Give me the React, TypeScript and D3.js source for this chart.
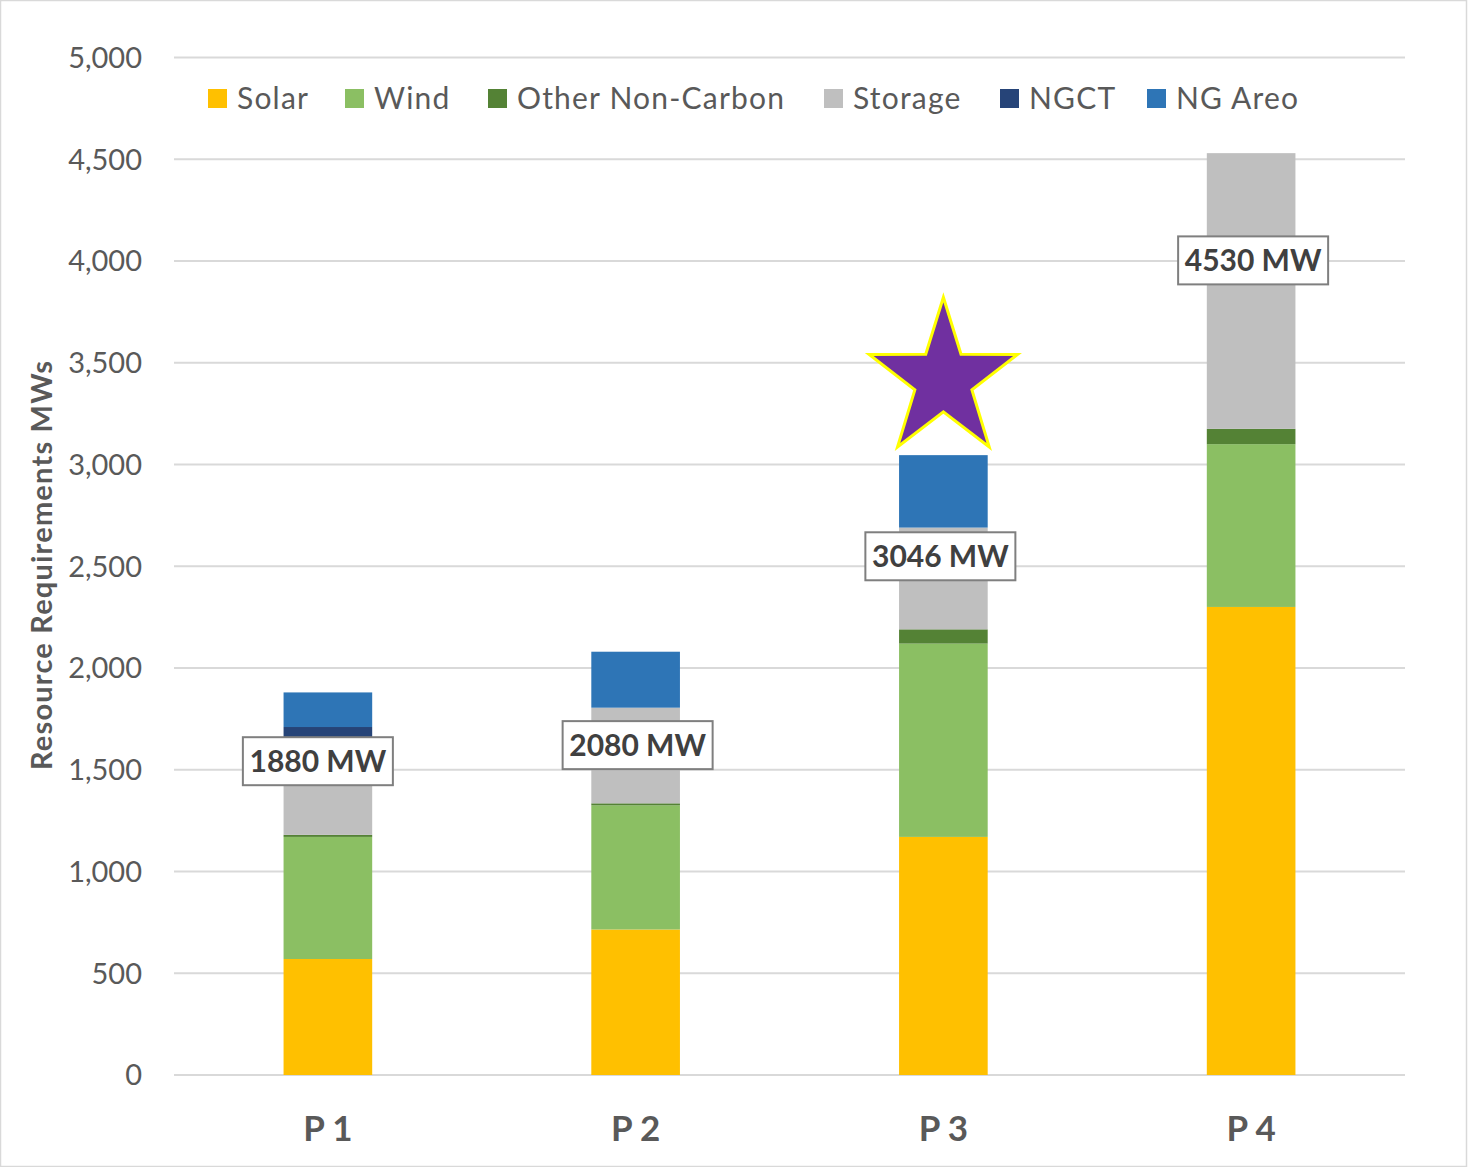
import React from "react";
import * as d3 from "d3";

// Resource build-out by plan (MW), stacked by resource type
const plans = ["P 1", "P 2", "P 3", "P 4"];
const seriesNames = ["Solar", "Wind", "Other Non-Carbon", "Storage", "NGCT", "NG Areo"];
const solar = [570, 715, 1170, 2300];
const wind = [600, 610, 950, 800];
const otherNonCarbon = [10, 10, 70, 75];
const storage = [480, 470, 500, 1355];
const ngct = [50, 0, 0, 0];
const ngAreo = [170, 275, 356, 0];
const yTicks = [0, 500, 1000, 1500, 2000, 2500, 3000, 3500, 4000, 4500, 5000];

// Where each total callout sits (in MW on the value axis) and its nudge from bar centre
const calloutLevel = [1542, 1621, 2549, 4003];
const calloutNudge = [-10, 2, -3, 2];
// Highlighted plan and the height of its marker
const highlightPlan = "P 3";
const highlightLevel = 3430;

const colors = ["#FFC000", "#8BBF63", "#548235", "#BFBFBF", "#264478", "#2E75B6"];

const W = 1468;
const H = 1167;
const FONT = "Lato, 'Open Sans', sans-serif";
const TEXT = "#595959";

const rows = plans.map((p, i) => ({
  plan: p,
  Solar: solar[i],
  Wind: wind[i],
  "Other Non-Carbon": otherNonCarbon[i],
  Storage: storage[i],
  NGCT: ngct[i],
  "NG Areo": ngAreo[i],
}));

const totals = rows.map((r) => seriesNames.reduce((s, k) => s + (r as any)[k], 0));

function starPath(cx: number, cy: number, R: number, r: number, sy: number) {
  const pts: [number, number][] = [];
  for (let k = 0; k < 10; k++) {
    const a = -Math.PI / 2 + (k * Math.PI) / 5;
    const rad = k % 2 === 0 ? R : r;
    pts.push([cx + rad * Math.cos(a), cy + rad * Math.sin(a) * sy]);
  }
  return d3.line()(pts) + "Z";
}

export default function App() {
  const x = d3.scaleBand<string>().domain(plans).range([174, 1405]).paddingInner(0.712).paddingOuter(0.356);
  const y = d3.scaleLinear().domain([0, 5000]).range([1075, 57.5]);
  const stacked = d3.stack<any>().keys(seriesNames)(rows);

  const legendItems = [
    { name: "Solar", x: 208 },
    { name: "Wind", x: 345 },
    { name: "Other Non-Carbon", x: 488 },
    { name: "Storage", x: 824 },
    { name: "NGCT", x: 1000 },
    { name: "NG Areo", x: 1147 },
  ];

  const cxHighlight = (x(highlightPlan) as number) + x.bandwidth() / 2;

  return (
    <svg
      width={W}
      height={H}
      style={{ position: "absolute", left: 0, top: 0, background: "#fff" }}
      fontFamily={FONT}
    >
      <rect x={0.5} y={0.5} width={W - 2} height={H - 1} fill="#fff" stroke="#D9D9D9" strokeWidth={1.5} />

      {/* gridlines and value ticks */}
      {yTicks.map((t) => (
        <g key={t}>
          <line x1={174} x2={1405} y1={y(t)} y2={y(t)} stroke="#D9D9D9" strokeWidth={2} />
          <text x={142} y={y(t)} dy="0.36em" textAnchor="end" fontSize={29} fill={TEXT}>
            {d3.format(",")(t)}
          </text>
        </g>
      ))}

      {/* stacked bars */}
      {stacked.map((layer, li) => (
        <g key={layer.key} fill={colors[li]}>
          {layer.map((d, i) =>
            d[1] - d[0] > 0 ? (
              <rect
                key={i}
                x={x(plans[i]) as number}
                width={x.bandwidth()}
                y={y(d[1])}
                height={y(d[0]) - y(d[1])}
              />
            ) : null
          )}
        </g>
      ))}

      {/* category labels */}
      {plans.map((p) => (
        <text
          key={p}
          x={(x(p) as number) + x.bandwidth() / 2}
          y={1141}
          textAnchor="middle"
          fontSize={35}
          fontWeight={700}
          fill={TEXT}
        >
          {p}
        </text>
      ))}

      {/* total callouts */}
      {plans.map((p, i) => {
        const cx = (x(p) as number) + x.bandwidth() / 2 + calloutNudge[i];
        const cy = y(calloutLevel[i]);
        return (
          <g key={p}>
            <rect x={cx - 75} y={cy - 24} width={150} height={48} fill="#fff" stroke="#7F7F7F" strokeWidth={2} />
            <text x={cx} y={cy} dy="0.36em" textAnchor="middle" fontSize={30} fontWeight={700} fill="#404040">
              {`${totals[i]} MW`}
            </text>
          </g>
        );
      })}

      {/* highlight star */}
      <path
        d={starPath(cxHighlight, y(highlightLevel) + 3, 78, 30, 1.06)}
        fill="#7030A0"
        stroke="#FFFF00"
        strokeWidth={3}
        strokeLinejoin="miter"
      />

      {/* legend */}
      {legendItems.map((it, i) => (
        <g key={it.name}>
          <rect x={it.x} y={89} width={19} height={19} fill={colors[i]} />
          <text x={it.x + 29} y={98.5} dy="0.36em" fontSize={30} letterSpacing={1.2} fill={TEXT}>
            {it.name}
          </text>
        </g>
      ))}

      {/* value axis title */}
      <text
        transform="translate(52,565) rotate(-90)"
        textAnchor="middle"
        fontSize={29}
        fontWeight={700}
        letterSpacing={1.2}
        fill={TEXT}
      >
        Resource Requirements MWs
      </text>
    </svg>
  );
}
